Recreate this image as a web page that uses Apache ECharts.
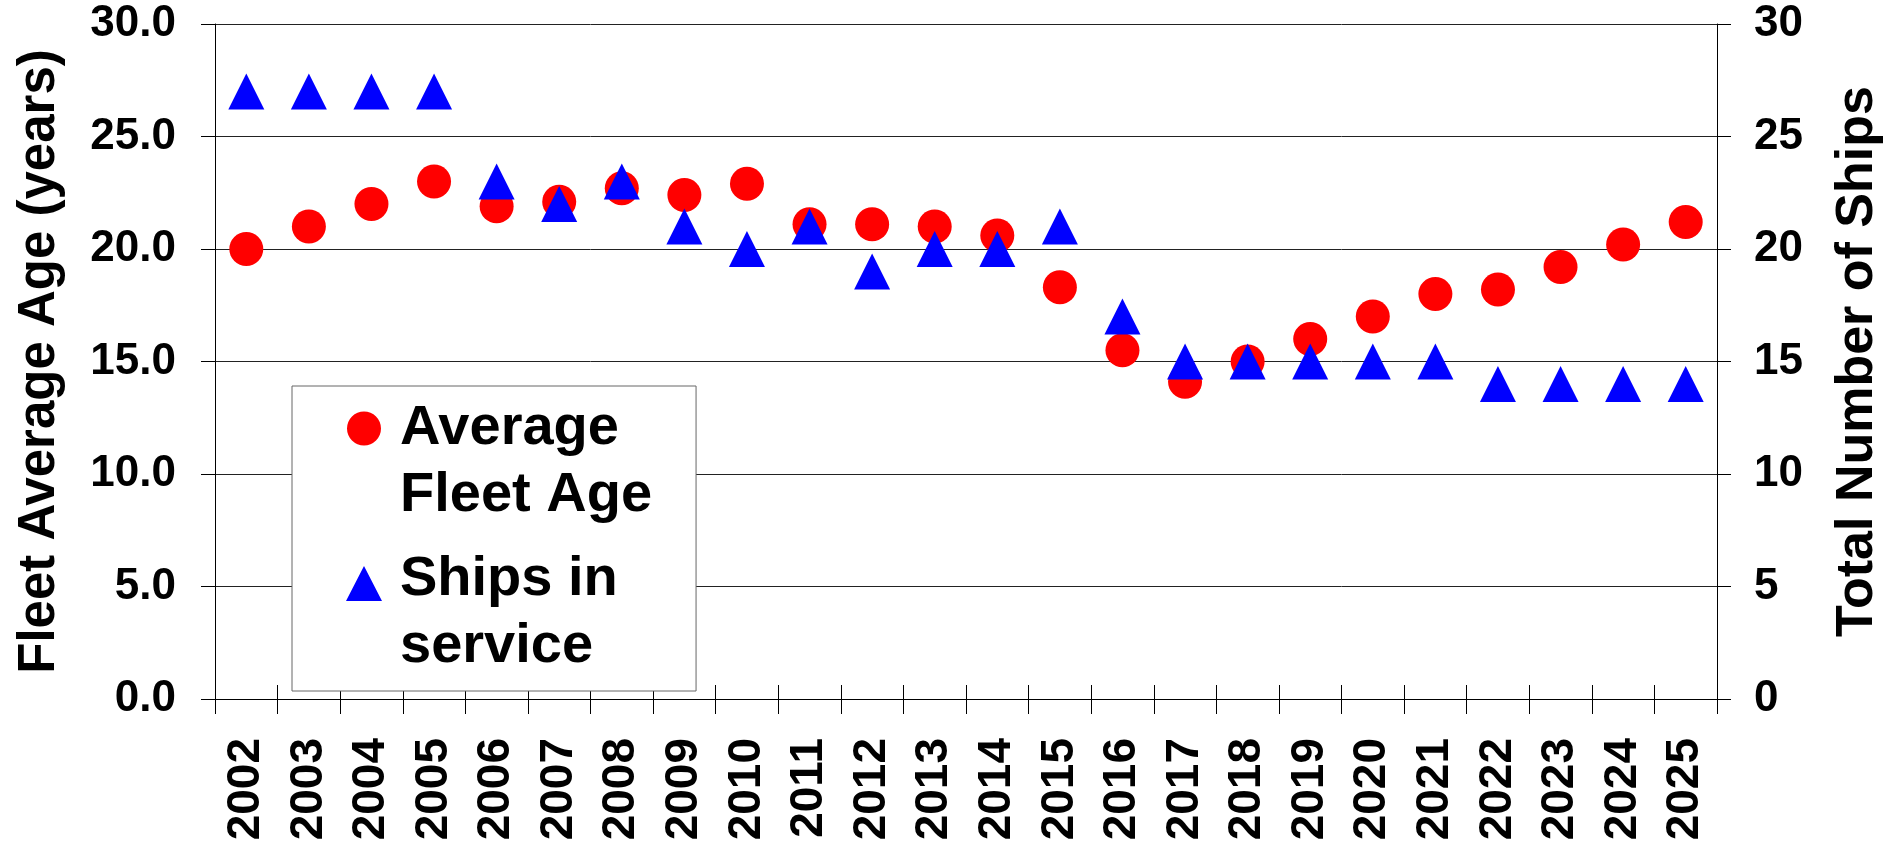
<!DOCTYPE html>
<html>
<head>
<meta charset="utf-8">
<script src="https://cdn.jsdelivr.net/npm/echarts@6/dist/echarts.min.js"></script>
<style>
html,body{margin:0;padding:0;background:#fff;}
#chart{width:1902px;height:848px;}
</style>
</head>
<body>
<div id="chart"></div>
<script>
const years = ['2002','2003','2004','2005','2006','2007','2008','2009','2010','2011','2012','2013','2014','2015','2016','2017','2018','2019','2020','2021','2022','2023','2024','2025'];
const avgFleetAge = [20.0,21.0,22.0,23.0,21.9,22.1,22.7,22.4,22.9,21.1,21.1,21.0,20.6,18.3,15.5,14.1,15.0,16.0,17.0,18.0,18.2,19.2,20.2,21.2];
const shipsInService = [27,27,27,27,23,22,23,21,20,21,19,20,20,21,17,15,15,15,15,15,14,14,14,14];
const seriesNames = ['Average\nFleet Age','Ships in\nservice'];
const leftAxisName = 'Fleet Average Age (years)';
const rightAxisName = 'Total Number of Ships';

const FONT = '"Liberation Sans", Arial, sans-serif';
const chart = echarts.init(document.getElementById('chart'));

const circleIcon = 'path://M0,0 L36,0 Z M1,17 A17,17 0 1,1 35,17 A17,17 0 1,1 1,17 Z M0,101 L36,101 Z';
const triIcon = 'path://M0,0 L36,0 Z M18,3.5 L36,38.5 L0,38.5 Z M0,101 L36,101 Z';

const gridLine = {show:true, lineStyle:{color:'#222', width:1}};
chart.setOption({
  animation:false,
  backgroundColor:'#fff',
  grid:{left:215, right:185, top:24, bottom:149, containLabel:false},
  legend:{
    orient:'vertical', left:292, top:386,
    padding:[9,44,11,54],
    itemWidth:36, itemHeight:101, itemGap:17,
    borderColor:'#666', borderWidth:1, backgroundColor:'#fff',
    textStyle:{fontFamily:FONT, fontWeight:'bold', fontSize:56, lineHeight:67, color:'#000', padding:[0,0,0,13]},
    data:[{name:seriesNames[0], icon:circleIcon},{name:seriesNames[1], icon:triIcon}]
  },
  xAxis:[{
    type:'category', data:years, boundaryGap:true,
    axisLine:{show:true, lineStyle:{color:'#000', width:1}},
    axisTick:{show:true, inside:false, length:15, lineStyle:{color:'#000'}},
    axisLabel:{rotate:90, margin:39, fontFamily:FONT, fontWeight:'bold', fontSize:46, color:'#000', interval:0},
    splitLine:{show:false}
  },{
    type:'category', data:years, boundaryGap:true, position:'bottom',
    axisLine:{show:false},
    axisTick:{show:true, inside:true, length:14, lineStyle:{color:'#000'}},
    axisLabel:{show:false}, splitLine:{show:false}
  }],
  yAxis:[{
    type:'value', min:0, max:30, interval:5, position:'left',
    name:leftAxisName, nameLocation:'middle', nameGap:150, nameRotate:90,
    nameTextStyle:{fontFamily:FONT, fontWeight:'bold', fontSize:51, color:'#000'},
    axisLine:{show:true, lineStyle:{color:'#000', width:1}},
    axisTick:{show:true, length:14, lineStyle:{color:'#000'}},
    axisLabel:{margin:39, fontFamily:FONT, fontWeight:'bold', fontSize:44, color:'#000', formatter:v=>v.toFixed(1)},
    splitLine:gridLine
  },{
    type:'value', min:0, max:30, interval:5, position:'right',
    name:rightAxisName, nameLocation:'middle', nameGap:115, nameRotate:90,
    nameTextStyle:{fontFamily:FONT, fontWeight:'bold', fontSize:52, color:'#000'},
    axisLine:{show:true, lineStyle:{color:'#000', width:1}},
    axisTick:{show:true, length:14, lineStyle:{color:'#000'}},
    axisLabel:{margin:37, fontFamily:FONT, fontWeight:'bold', fontSize:44, color:'#000'},
    splitLine:{show:false}
  }],
  series:[{
    name:seriesNames[0], type:'scatter', xAxisIndex:0, yAxisIndex:0,
    data:avgFleetAge, symbol:'circle', symbolSize:34,
    itemStyle:{color:'#ff0000', opacity:1}, z:2
  },{
    name:seriesNames[1], type:'scatter', xAxisIndex:0, yAxisIndex:1,
    data:shipsInService, symbol:'triangle', symbolSize:[36,36],
    itemStyle:{color:'#0000ff', opacity:1}, z:3
  }]
});
</script>
</body>
</html>
